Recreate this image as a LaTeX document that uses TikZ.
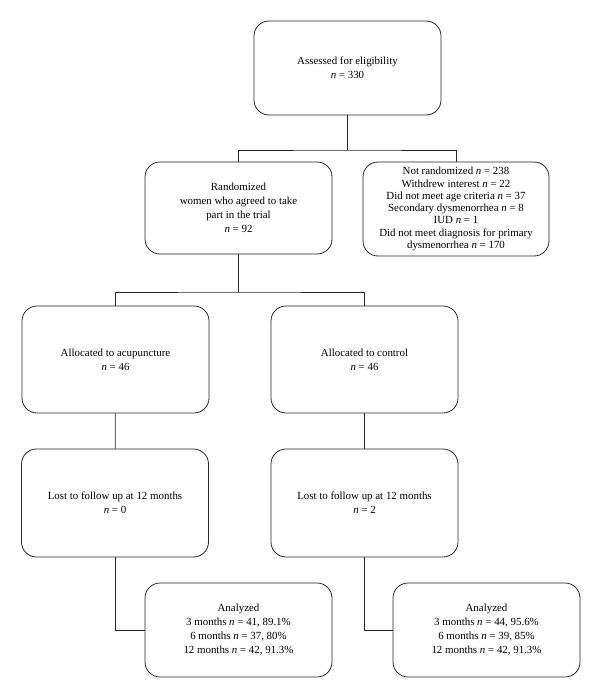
\documentclass[tikz,border=0pt]{standalone}
\usepackage{fontspec}
\setmainfont{Liberation Serif}
\newcommand{\nn}{\textit{n}}
\begin{document}
\begin{tikzpicture}[x=1pt,y=-1pt,
  box/.style={draw=black!85, line width=0.8pt, rounded corners=15pt, align=center,
    minimum width=187pt, inner sep=0pt, font=\fontsize{10.9}{14}\selectfont},
  link/.style={draw=black!85, line width=0.8pt}]
\useasboundingbox (0,0) rectangle (600,698);
\node[box, minimum height=94pt] (top) at (347.5,68) {Assessed for eligibility\\ \nn{} = 330};
\node[box, minimum height=92pt] (rand) at (238.5,208) {Randomized\\ women who agreed to take\\ part in the trial\\ \nn{} = 92};
\node[box, minimum width=186pt, minimum height=94pt, font=\fontsize{10.9}{12.3}\selectfont] (nr) at (456,209) {Not randomized \nn{} = 238\\ Withdrew interest \nn{} = 22\\ Did not meet age criteria \nn{} = 37\\ Secondary dysmenorrhea \nn{} = 8\\ IUD \nn{} = 1\\ Did not meet diagnosis for primary\\ dysmenorrhea \nn{} = 170};
\node[box, minimum height=107pt] (acu) at (115.5,359.5) {Allocated to acupuncture\\ \nn{} = 46};
\node[box, minimum height=107pt] (ctrl) at (364.5,359.5) {Allocated to control\\ \nn{} = 46};
\node[box, minimum height=108pt] (lost1) at (115,503) {Lost to follow up at 12 months\\ \nn{} = 0};
\node[box, minimum height=108pt] (lost2) at (364.5,503) {Lost to follow up at 12 months\\ \nn{} = 2};
\node[box, minimum height=94pt] (ana1) at (238.5,630) {Analyzed\\ 3 months \nn{} = 41, 89.1\%\\ 6 months \nn{} = 37, 80\%\\ 12 months \nn{} = 42, 91.3\%};
\node[box, minimum height=94pt] (ana2) at (486.5,630) {Analyzed\\ 3 months \nn{} = 44, 95.6\%\\ 6 months \nn{} = 39, 85\%\\ 12 months \nn{} = 42, 91.3\%};
\coordinate (j1) at (347.5,150);
\coordinate (j2) at (238.5,292);
\draw[link] (top) -- (j1);
\draw[link] (rand.north) |- (j1) -| (nr.north);
\draw[link] (rand) -- (j2);
\draw[link] (acu.north) |- (j2) -| (ctrl.north);
\draw[link] (acu) -- (lost1);
\draw[link] (ctrl) -- (lost2);
\draw[link] (lost1.south) |- (ana1.west);
\draw[link] (lost2.south) |- (ana2.west);
\end{tikzpicture}
\end{document}
